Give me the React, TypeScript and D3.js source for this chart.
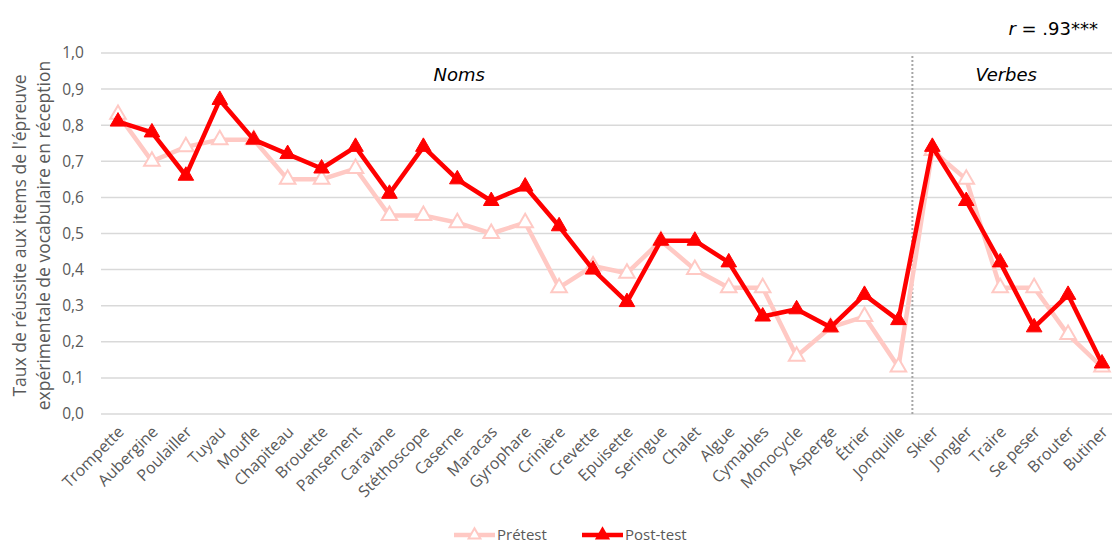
import React, { useEffect, useRef } from 'react';
import * as d3 from 'd3';

const items = [
  'Trompette', 'Aubergine', 'Poulailler', 'Tuyau', 'Moufle', 'Chapiteau', 'Brouette', 'Pansement',
  'Caravane', 'Stéthoscope', 'Caserne', 'Maracas', 'Gyrophare', 'Crinière', 'Crevette', 'Epuisette',
  'Seringue', 'Chalet', 'Algue', 'Cymables', 'Monocycle', 'Asperge', 'Étrier', 'Jonquille',
  'Skier', 'Jongler', 'Traire', 'Se peser', 'Brouter', 'Butiner',
];

const pretest = [
  0.83, 0.70, 0.74, 0.76, 0.76, 0.65, 0.65, 0.68,
  0.55, 0.55, 0.53, 0.50, 0.53, 0.35, 0.41, 0.39,
  0.48, 0.40, 0.35, 0.35, 0.16, 0.24, 0.27, 0.13,
  0.73, 0.65, 0.35, 0.35, 0.22, 0.13,
];

const posttest = [
  0.81, 0.78, 0.66, 0.87, 0.76, 0.72, 0.68, 0.74,
  0.61, 0.74, 0.65, 0.59, 0.63, 0.52, 0.40, 0.31,
  0.48, 0.48, 0.42, 0.27, 0.29, 0.24, 0.33, 0.26,
  0.74, 0.59, 0.42, 0.24, 0.33, 0.14,
];

const yTicks = [0, 0.1, 0.2, 0.3, 0.4, 0.5, 0.6, 0.7, 0.8, 0.9, 1.0];
const nounCount = 24;

const PINK = '#ffc9c4';
const RED = '#ff0000';
const GREY_TEXT = '#595959';
const FONT = '"Open Sans", sans-serif';

const App: React.FC = () => {
  const svgRef = useRef<SVGSVGElement>(null);

  useEffect(() => {
    const svg = d3.select(svgRef.current);
    svg.selectAll('*').remove();

    const W = 1112, H = 545;
    const left = 101, right = 1112;
    const top = 53, bottom = 414;

    const x = d3.scalePoint<string>().domain(items).range([118, 1102]);
    const y = d3.scaleLinear().domain([0, 1]).range([bottom, top]);

    svg.attr('width', W).attr('height', H);

    // Gridlines
    svg.append('g')
      .selectAll('line')
      .data(yTicks)
      .enter().append('line')
      .attr('x1', left).attr('x2', right)
      .attr('y1', d => y(d)).attr('y2', d => y(d))
      .attr('stroke', '#d9d9d9')
      .attr('stroke-width', 1.5);

    // Y tick labels
    svg.append('g')
      .selectAll('text')
      .data(yTicks)
      .enter().append('text')
      .attr('x', 84)
      .attr('y', d => y(d))
      .attr('dy', '0.35em')
      .attr('text-anchor', 'end')
      .style('font-family', FONT)
      .style('font-size', '15.5px')
      .attr('fill', GREY_TEXT)
      .text(d => d3.format('.1f')(d).replace('.', ','));

    // Y axis title
    const yt = svg.append('text')
      .attr('transform', `translate(0,${(top + bottom) / 2 + 2}) rotate(-90)`)
      .attr('text-anchor', 'middle')
      .style('font-family', FONT)
      .style('font-size', '17.5px')
      .attr('fill', GREY_TEXT);
    yt.append('tspan').attr('x', 0).attr('y', 26).text("Taux de réussite aux items de l'épreuve");
    yt.append('tspan').attr('x', 0).attr('y', 50).text('expérimentale de vocabulaire en réception');

    // X labels
    svg.append('g')
      .selectAll('text')
      .data(items)
      .enter().append('text')
      .attr('transform', d => `translate(${(x(d) as number) + 3},${bottom + 15}) rotate(-45)`)
      .attr('text-anchor', 'end')
      .attr('dy', '0.35em')
      .style('font-family', FONT)
      .style('font-size', '16px')
      .attr('fill', GREY_TEXT)
      .text(d => d);

    // Separator between nouns and verbs
    const sepX = ((x(items[nounCount - 1]) as number) + (x(items[nounCount]) as number)) / 2 - 3;
    svg.append('line')
      .attr('x1', sepX).attr('x2', sepX)
      .attr('y1', 56).attr('y2', bottom)
      .attr('stroke', '#a6a6a6')
      .attr('stroke-width', 2)
      .attr('stroke-dasharray', '2,2');

    // Section labels
    svg.append('text')
      .attr('x', (x(items[10]) as number) + 2)
      .attr('y', 81)
      .attr('text-anchor', 'middle')
      .style('font-family', '"DejaVu Sans", sans-serif')
      .style('font-style', 'italic')
      .style('font-size', '18px')
      .attr('fill', '#000')
      .text('Noms');

    svg.append('text')
      .attr('x', (x(items[26]) as number) + 6)
      .attr('y', 81)
      .attr('text-anchor', 'middle')
      .style('font-family', '"DejaVu Sans", sans-serif')
      .style('font-style', 'italic')
      .style('font-size', '18px')
      .attr('fill', '#000')
      .text('Verbes');

    const rt = svg.append('text')
      .attr('x', 1098)
      .attr('y', 35)
      .attr('text-anchor', 'end')
      .style('font-family', '"DejaVu Sans", sans-serif')
      .style('font-size', '18px')
      .attr('fill', '#000');
    rt.append('tspan').style('font-style', 'italic').text('r');
    rt.append('tspan').text(' = .93***');

    const line = d3.line<number>()
      .x((d, i) => x(items[i]) as number)
      .y(d => y(d));

    const tri = d3.symbol().type(d3.symbolTriangle).size(105);

    // Pretest
    svg.append('path')
      .datum(pretest)
      .attr('d', line)
      .attr('fill', 'none')
      .attr('stroke', PINK)
      .attr('stroke-width', 4.5)
      .attr('stroke-linejoin', 'round');
    svg.append('g')
      .selectAll('path')
      .data(pretest)
      .enter().append('path')
      .attr('d', tri)
      .attr('transform', (d, i) => `translate(${x(items[i])},${y(d)})`)
      .attr('fill', '#fff')
      .attr('stroke', PINK)
      .attr('stroke-width', 2);

    // Post-test
    svg.append('path')
      .datum(posttest)
      .attr('d', line)
      .attr('fill', 'none')
      .attr('stroke', RED)
      .attr('stroke-width', 4.5)
      .attr('stroke-linejoin', 'round');
    svg.append('g')
      .selectAll('path')
      .data(posttest)
      .enter().append('path')
      .attr('d', tri)
      .attr('transform', (d, i) => `translate(${x(items[i])},${y(d)})`)
      .attr('fill', RED)
      .attr('stroke', RED)
      .attr('stroke-width', 1);

    // Legend
    const legend = [
      { label: 'Prétest', color: PINK, fill: '#fff', x0: 454 },
      { label: 'Post-test', color: RED, fill: RED, x0: 582 },
    ];
    const lg = svg.append('g')
      .selectAll('g')
      .data(legend)
      .enter().append('g')
      .attr('transform', d => `translate(${d.x0},535)`);
    lg.append('line')
      .attr('x1', 0).attr('x2', 41)
      .attr('stroke', d => d.color)
      .attr('stroke-width', 4.5);
    lg.append('path')
      .attr('d', d3.symbol().type(d3.symbolTriangle).size(60))
      .attr('transform', 'translate(20.5,0)')
      .attr('fill', d => d.fill)
      .attr('stroke', d => d.color)
      .attr('stroke-width', 2);
    lg.append('text')
      .attr('x', 43)
      .attr('dy', '0.35em')
      .style('font-family', FONT)
      .style('font-size', '15px')
      .attr('fill', GREY_TEXT)
      .text(d => d.label);
  }, []);

  return <svg ref={svgRef} style={{ position: 'absolute', left: 0, top: 0 }}></svg>;
};

export default App;
